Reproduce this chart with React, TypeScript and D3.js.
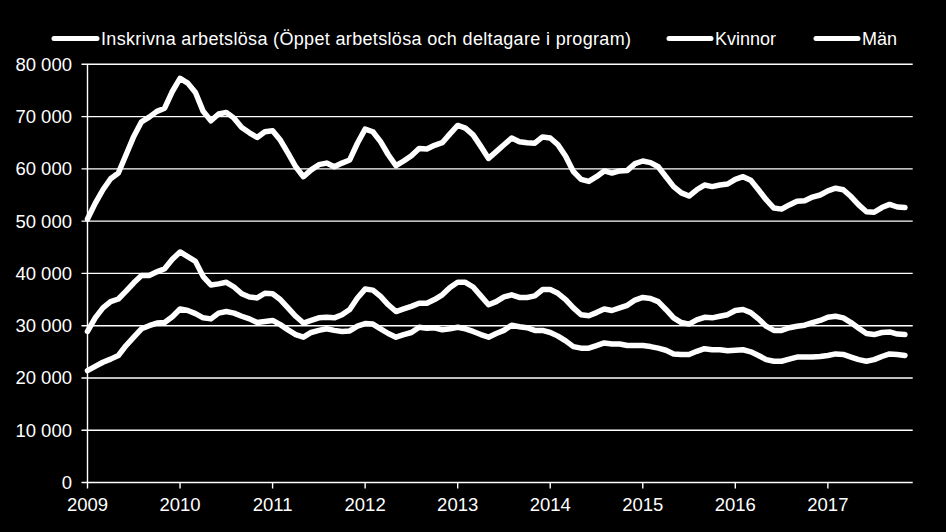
import React from "react";
import * as d3 from "d3";

const years = ["2009", "2010", "2011", "2012", "2013", "2014", "2015", "2016", "2017"];
const yTicks = [0, 10000, 20000, 30000, 40000, 50000, 60000, 70000, 80000];
const seriesNames = ["Inskrivna arbetslösa (Öppet arbetslösa och deltagare i program)", "Kvinnor", "Män"];

const total = [50400,53400,56000,58100,59200,62700,66200,69000,69900,71000,71600,74800,
77300,76400,74600,71000,69200,70500,70800,69700,67900,66900,66000,67100,
67300,65500,63000,60400,58500,59800,60800,61100,60400,61100,61700,64900,
67600,67100,65200,62700,60600,61500,62500,63900,63800,64500,65000,66700,
68300,67800,66500,64300,62000,63300,64600,65900,65200,65000,64900,66100,
65900,64600,62400,59500,58000,57600,58500,59600,59200,59600,59700,61000,
61500,61200,60400,58500,56600,55400,54800,56000,56900,56600,56900,57100,
58000,58500,57800,56000,54100,52500,52300,53100,53800,53900,54600,55000,
55800,56300,56000,54700,53100,51800,51700,52600,53200,52700,52600];

const kvinnor = [21400,22200,23000,23600,24300,26200,27800,29400,30000,30500,30600,31700,
33200,32900,32300,31500,31300,32400,32700,32400,31800,31300,30600,30800,
31000,30200,29200,28300,27800,28700,29100,29400,29100,28900,29000,29900,
30400,30300,29400,28500,27800,28300,28700,29700,29500,29600,29200,29400,
29700,29400,28900,28300,27800,28500,29100,30100,29800,29600,29100,29100,
28700,28000,27100,26000,25700,25700,26200,26700,26500,26500,26200,26200,
26200,26000,25700,25300,24600,24500,24500,25100,25600,25400,25400,25200,
25300,25400,25000,24300,23500,23200,23200,23600,24000,24000,24000,24100,
24300,24600,24500,24000,23500,23200,23500,24100,24600,24500,24300];

const man = [28900,31500,33400,34600,35100,36600,38200,39600,39600,40300,40900,42700,
44100,43200,42300,39400,37800,38000,38300,37400,36100,35500,35300,36200,
36100,35000,33400,31800,30500,31000,31500,31600,31500,32100,33100,35300,
37000,36800,35600,34000,32700,33200,33700,34300,34300,35000,35900,37300,
38300,38300,37400,35700,34000,34600,35500,35900,35400,35400,35700,36900,
36900,36200,35000,33400,32100,31900,32500,33200,32900,33400,33900,34900,
35400,35200,34600,33100,31500,30600,30300,31100,31600,31500,31800,32100,
32900,33100,32500,31300,29900,29100,29100,29600,29900,30100,30600,31000,
31600,31800,31500,30600,29500,28500,28300,28700,28800,28400,28300];

const W = 946;
const H = 532;
const FONT = "'Liberation Sans', Arial, sans-serif";

const fmt = d3.formatLocale({ decimal: ",", thousands: " ", grouping: [3], currency: ["", ""] }).format(",");

export default function App() {
  const x = d3.scaleLinear().domain([0, 107]).range([87.5, 912.7]);
  const y = d3.scaleLinear().domain([0, 80000]).range([482.5, 64.3]);
  const line = d3.line<number>().x((_, i) => x(i)).y((d) => y(d)).curve(d3.curveLinear);
  const series = [total, kvinnor, man];

  const legendItems = [
    { x1: 54, x2: 97, tx: 101, len: 530 },
    { x1: 669, x2: 711, tx: 715, len: 0 },
    { x1: 816, x2: 858, tx: 862, len: 0 },
  ];

  return (
    <div style={{ position: "fixed", left: 0, top: 0, width: W, height: H, background: "#000" }}>
      <svg width={W} height={H} style={{ display: "block", background: "#000" }}>
        <rect x={0} y={0} width={W} height={H} fill="#000" />
        {yTicks.map((t) => (
          <g key={t}>
            <line x1={x(0) - 6} x2={x(107)} y1={y(t)} y2={y(t)} stroke="#fff" strokeWidth={1.4} />
            <text x={72} y={y(t)} dy="0.35em" textAnchor="end" fill="#fff" fontFamily={FONT} fontSize={18.5}>
              {fmt(t)}
            </text>
          </g>
        ))}
        <line x1={x(0)} x2={x(0)} y1={y(80000)} y2={y(0)} stroke="#fff" strokeWidth={1.4} />
        {years.map((yr, k) => (
          <g key={yr}>
            <line x1={x(k * 12)} x2={x(k * 12)} y1={y(0)} y2={y(0) + 6} stroke="#fff" strokeWidth={1.4} />
            <text x={x(k * 12)} y={511} textAnchor="middle" fill="#fff" fontFamily={FONT} fontSize={18.5}>
              {yr}
            </text>
          </g>
        ))}
        {series.map((s, i) => (
          <path key={i} d={line(s) || ""} fill="none" stroke="#fff" strokeWidth={5.5} strokeLinejoin="round" strokeLinecap="round" />
        ))}
        {legendItems.map((it, i) => (
          <g key={i}>
            <line x1={it.x1} x2={it.x2} y1={38.5} y2={38.5} stroke="#fff" strokeWidth={5} strokeLinecap="round" />
            <text
              x={it.tx}
              y={45}
              fill="#fff"
              fontFamily={FONT}
              fontSize={18}
              {...(it.len ? { textLength: it.len, lengthAdjust: "spacing" } : {})}
            >
              {seriesNames[i]}
            </text>
          </g>
        ))}
      </svg>
    </div>
  );
}
